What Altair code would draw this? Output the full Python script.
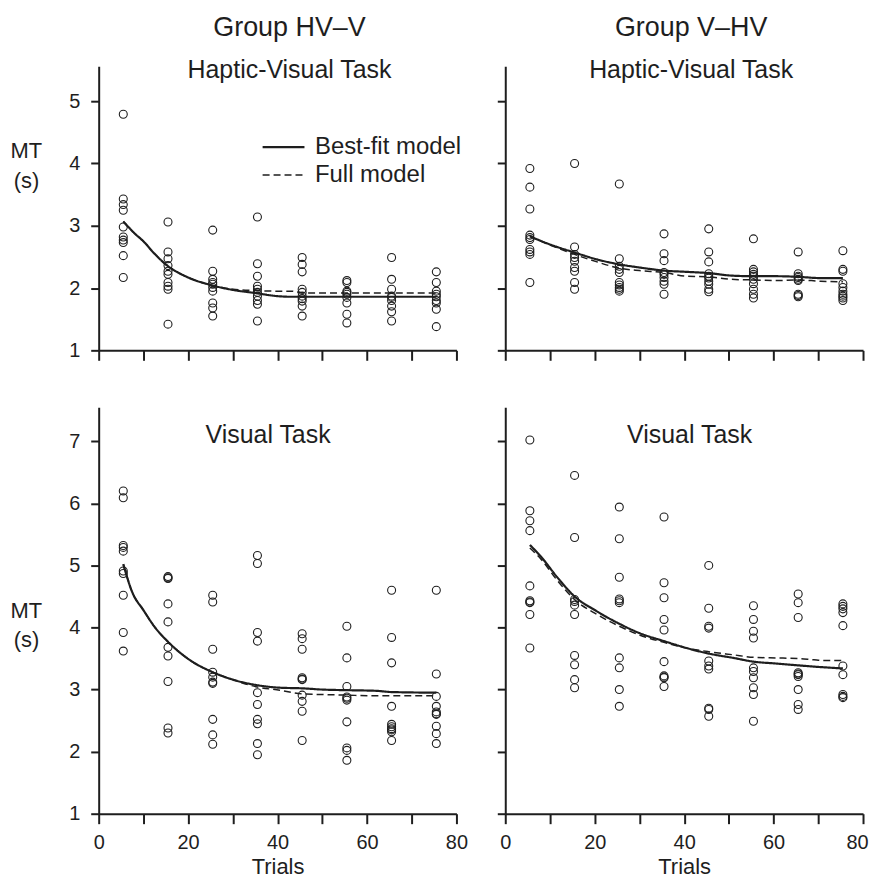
import altair as alt
import pandas as pd

FONT = "Liberation Sans"
INK = "#1e1e1e"

MODELS = ["Best-fit model", "Full model"]
COLS = [5.5, 15.5, 25.5, 35.5, 45.5, 55.5, 65.5, 75.5]
X_TICKS = [0, 10, 20, 30, 40, 50, 60, 70, 80]
Y_TICKS_TOP = [1, 2, 3, 4, 5]
Y_TICKS_BOTTOM = [1, 2, 3, 4, 5, 6, 7]

# ---- Group HV-V, Haptic-Visual Task (observed MT per block) ----
HVV_HV = [
    [4.79, 3.43, 3.34, 3.25, 2.98, 2.82, 2.77, 2.73, 2.52, 2.17],
    [3.06, 2.58, 2.47, 2.36, 2.27, 2.22, 2.09, 2.03, 1.98, 1.42],
    [2.93, 2.27, 2.14, 2.09, 2.06, 2.01, 1.95, 1.76, 1.68, 1.55],
    [3.14, 2.39, 2.19, 2.03, 1.98, 1.93, 1.87, 1.80, 1.74, 1.47],
    [2.49, 2.38, 2.26, 1.98, 1.93, 1.87, 1.83, 1.79, 1.71, 1.55],
    [2.12, 2.09, 1.95, 1.93, 1.90, 1.85, 1.76, 1.58, 1.44],
    [2.49, 2.14, 1.98, 1.87, 1.85, 1.80, 1.71, 1.62, 1.47],
    [2.26, 2.09, 1.95, 1.90, 1.86, 1.80, 1.76, 1.66, 1.38],
]
HVV_HV_LX = [5.5, 8, 10, 12.5, 15, 20, 25, 30, 35, 40, 43, 46, 55, 65, 75.5]
HVV_HV_BEST = [3.07, 2.88, 2.75, 2.55, 2.38, 2.17, 2.05, 1.97, 1.92, 1.87, 1.86, 1.86, 1.86, 1.86, 1.86]
HVV_HV_FULL = [3.07, 2.88, 2.75, 2.55, 2.38, 2.17, 2.05, 1.98, 1.96, 1.95, 1.95, 1.92, 1.92, 1.92, 1.92]

# ---- Group V-HV, Haptic-Visual Task ----
VHV_HV = [
    [3.92, 3.62, 3.27, 2.85, 2.81, 2.78, 2.62, 2.58, 2.54, 2.09],
    [4.00, 2.66, 2.54, 2.49, 2.43, 2.33, 2.27, 2.09, 1.98],
    [3.67, 2.47, 2.35, 2.30, 2.25, 2.09, 2.05, 2.01, 1.98, 1.95],
    [2.87, 2.55, 2.44, 2.25, 2.22, 2.17, 2.11, 2.06, 1.90],
    [2.95, 2.58, 2.42, 2.23, 2.19, 2.16, 2.11, 2.06, 1.98, 1.94],
    [2.79, 2.30, 2.26, 2.22, 2.19, 2.14, 2.07, 1.98, 1.90, 1.84],
    [2.58, 2.23, 2.19, 2.17, 2.14, 2.12, 1.90, 1.88, 1.86],
    [2.60, 2.30, 2.27, 2.07, 2.01, 1.95, 1.90, 1.87, 1.84, 1.80],
]
VHV_HV_LX = [5.5, 10, 15.5, 20.5, 25.5, 30, 35.5, 40.5, 45.5, 50.5, 55.5, 60.5, 65.5, 70.5, 75.5]
VHV_HV_BEST = [2.83, 2.70, 2.57, 2.46, 2.38, 2.33, 2.28, 2.26, 2.24, 2.20, 2.19, 2.19, 2.18, 2.16, 2.16]
VHV_HV_FULL = [2.83, 2.69, 2.54, 2.42, 2.32, 2.28, 2.25, 2.19, 2.18, 2.14, 2.13, 2.12, 2.13, 2.11, 2.10]

# ---- Group HV-V, Visual Task ----
HVV_V = [
    [6.20, 6.09, 5.32, 5.29, 5.23, 4.91, 4.87, 4.52, 3.92, 3.62],
    [4.82, 4.80, 4.79, 4.38, 4.09, 3.68, 3.54, 3.13, 2.38, 2.30],
    [4.52, 4.41, 3.65, 3.28, 3.20, 3.12, 3.10, 2.52, 2.27, 2.12],
    [5.16, 5.03, 3.92, 3.78, 2.95, 2.76, 2.52, 2.45, 2.13, 1.95],
    [3.90, 3.82, 3.65, 3.19, 3.17, 3.16, 2.91, 2.81, 2.65, 2.18],
    [4.02, 3.51, 3.05, 2.88, 2.86, 2.83, 2.48, 2.06, 2.02, 1.86],
    [4.60, 3.84, 3.43, 2.73, 2.44, 2.40, 2.37, 2.35, 2.32, 2.18],
    [4.60, 3.25, 2.89, 2.73, 2.64, 2.61, 2.60, 2.41, 2.29, 2.13],
]
HVV_V_LX = [5.5, 7.5, 10, 12.5, 15.5, 20.5, 25.5, 30, 35.5, 40.5, 45.5, 50, 55.5, 62, 65.5, 75.5]
HVV_V_BEST = [5.02, 4.57, 4.28, 4.01, 3.77, 3.47, 3.28, 3.16, 3.07, 3.03, 3.02, 3.00, 2.99, 2.98, 2.96, 2.95]
HVV_V_FULL = [5.02, 4.57, 4.28, 4.01, 3.77, 3.47, 3.28, 3.16, 3.04, 2.99, 2.93, 2.92, 2.91, 2.90, 2.90, 2.90]

# ---- Group V-HV, Visual Task ----
VHV_V = [
    [7.02, 5.88, 5.72, 5.56, 4.67, 4.43, 4.41, 4.40, 4.21, 3.67],
    [6.45, 5.45, 4.45, 4.42, 4.36, 4.21, 3.55, 3.40, 3.16, 3.03],
    [5.94, 5.43, 4.81, 4.46, 4.43, 4.40, 3.51, 3.35, 3.00, 2.73],
    [5.78, 4.72, 4.48, 4.13, 3.96, 3.45, 3.22, 3.20, 3.19, 3.05],
    [5.00, 4.31, 4.02, 3.99, 3.46, 3.38, 3.33, 2.70, 2.68, 2.57],
    [4.35, 4.13, 3.94, 3.83, 3.35, 3.29, 3.19, 3.03, 2.92, 2.49],
    [4.54, 4.40, 4.16, 3.27, 3.25, 3.24, 3.21, 3.00, 2.76, 2.68],
    [4.38, 4.34, 4.30, 4.24, 4.03, 3.38, 3.24, 2.92, 2.89, 2.87],
]
VHV_V_LX = [5.5, 8, 11.5, 15.5, 20.5, 25.5, 30, 35.5, 40.5, 45.5, 51, 55.5, 60.5, 65.5, 69, 71, 75.5]
VHV_V_BEST = [5.33, 5.14, 4.82, 4.50, 4.26, 4.06, 3.91, 3.78, 3.67, 3.58, 3.51, 3.45, 3.42, 3.39, 3.37, 3.36, 3.34]
VHV_V_FULL = [5.28, 5.10, 4.77, 4.45, 4.21, 4.02, 3.88, 3.76, 3.67, 3.61, 3.56, 3.52, 3.51, 3.50, 3.48, 3.47, 3.47]

W = 359


def panel(points, lx, best, full, ymax, yticks, height, left, bottom, title, legend, mt_y,
          shift_last=False):
    pts = pd.DataFrame(
        [(c, v) for c, col in zip(COLS, points) for v in col], columns=["trial", "mt"]
    )
    lines = pd.DataFrame({
        "trial": lx + lx,
        "mt": best + full,
        "model": [MODELS[0]] * len(lx) + [MODELS[1]] * len(lx),
    })

    xa = dict(values=X_TICKS, tickSize=10, labelFlush=False, labelPadding=9)
    if bottom:
        xa.update(labelExpr="datum.value % 20 == 0 ? datum.label : ''",
                  titleBaseline="alphabetic", titleY=60)
        if shift_last:
            xa.update(labelOffset={"condition": {"test": "datum.value == 80", "value": -6},
                                   "value": 0})
    else:
        xa.update(labels=False)
    x = alt.X("trial:Q", scale=alt.Scale(domain=[0, 80], nice=False),
              axis=alt.Axis(**xa), title="Trials" if bottom else None)

    ya = dict(values=yticks, tickSize=8, labelPadding=11)
    if left:
        ya.update(titleAngle=0, titleAlign="center", titleBaseline="alphabetic",
                  titleX=-73, titleY=mt_y, titleLineHeight=29.5)
    else:
        ya.update(labels=False)
    y = alt.Y("mt:Q", scale=alt.Scale(domain=[1, ymax], nice=False, zero=False),
              axis=alt.Axis(**ya), title=["MT", "(s)"] if left else None)

    if legend:
        leg = alt.Legend(orient="none", legendX=163, legendY=67, title=None,
                         symbolType="stroke", symbolSize=1764, symbolStrokeColor=INK,
                         labelFont=FONT, labelFontSize=24, labelColor=INK,
                         labelOffset=9, clipHeight=28, rowPadding=0, padding=0, labelLimit=400)
        dash = alt.StrokeDash("model:N", scale=alt.Scale(domain=MODELS, range=[[1, 0], [7, 4]]), legend=leg)
        sw = alt.StrokeWidth("model:N", scale=alt.Scale(domain=MODELS, range=[2.2, 1.5]), legend=leg)
    else:
        dash = alt.StrokeDash("model:N", scale=alt.Scale(domain=MODELS, range=[[1, 0], [7, 4]]), legend=None)
        sw = alt.StrokeWidth("model:N", scale=alt.Scale(domain=MODELS, range=[2.2, 1.5]), legend=None)

    pmark = alt.Chart(pts).mark_point(shape="circle", filled=False, size=64,
                                      color=INK, strokeWidth=1.1, opacity=1).encode(x=x, y=y)
    lmark = alt.Chart(lines).mark_line(color=INK, interpolate="monotone").encode(
        x=x, y=y, strokeDash=dash, strokeWidth=sw)
    return alt.layer(pmark, lmark).properties(width=W, height=height, title=title)


def ttl(group, task, dx, offset):
    common = dict(font=FONT, color=INK, fontWeight="normal", anchor="middle",
                  frame="group", dx=dx, offset=offset)
    if group:
        return alt.TitleParams(text=group, subtitle=task, fontSize=27,
                               subtitleFont=FONT, subtitleFontSize=25, subtitleColor=INK,
                               subtitleFontWeight="normal", subtitlePadding=16, **common)
    return alt.TitleParams(text=task, fontSize=25, **common)


tl = panel(HVV_HV, HVV_HV_LX, HVV_HV_BEST, HVV_HV_FULL, 5.56, Y_TICKS_TOP, 285, True, False,
           ttl("Group HV\u2013V", "Haptic-Visual Task", 12, -18), True, 92)
tr = panel(VHV_HV, VHV_HV_LX, VHV_HV_BEST, VHV_HV_FULL, 5.56, Y_TICKS_TOP, 285, False, False,
           ttl("Group V\u2013HV", "Haptic-Visual Task", 7, -18), False, 92)
bl = panel(HVV_V, HVV_V_LX, HVV_V_BEST, HVV_V_FULL, 7.55, Y_TICKS_BOTTOM, 408, True, True,
           ttl(None, "Visual Task", -9.5, -41), False, 211)
br = panel(VHV_V, VHV_V_LX, VHV_V_BEST, VHV_V_FULL, 7.55, Y_TICKS_BOTTOM, 408, False, True,
           ttl(None, "Visual Task", 5.5, -41), False, 211, shift_last=True)

col1 = alt.vconcat(tl, bl, spacing=46).resolve_legend(strokeDash="independent", strokeWidth="independent")
col2 = alt.vconcat(tr, br, spacing=46).resolve_legend(strokeDash="independent", strokeWidth="independent")

chart = (
    alt.hconcat(col1, col2, spacing=28)
    .resolve_legend(strokeDash="independent", strokeWidth="independent")
    .properties(padding={"left": 2, "top": 5, "right": 0, "bottom": 1}, background="white")
    .configure_view(stroke=None)
    .configure_axis(
        grid=False, domainColor=INK, domainWidth=2, tickColor=INK, tickWidth=2,
        labelFont=FONT, labelFontSize=20, labelColor=INK,
        titleFont=FONT, titleFontSize=22, titleColor=INK, titleFontWeight="normal",
    )
)

chart.save("out.html", embed_options={"renderer": "svg", "actions": False})
